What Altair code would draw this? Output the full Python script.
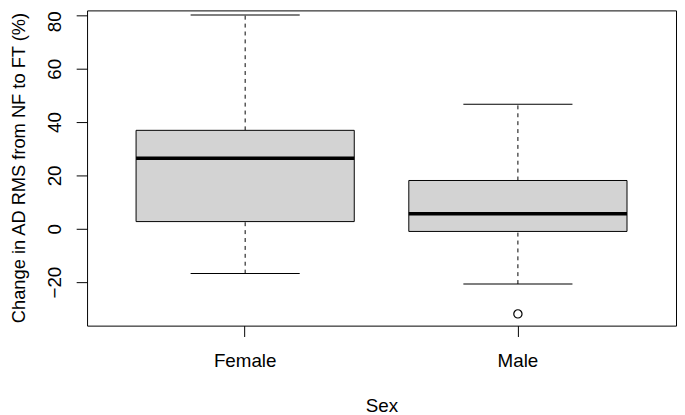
import altair as alt
import pandas as pd

# ---- data ----
sex = ["Female", "Male"]
whisker_low = [-16.8, -20.7]
q1 = [2.7, -1.0]
median = [26.4, 5.6]
q3 = [36.9, 18.1]
whisker_high = [80.1, 46.7]
outlier_sex = ["Male"]
outlier_value = [-31.9]

y_ticks = [-20, 0, 20, 40, 60, 80]
x_title = "Sex"
y_title = "Change in AD RMS from NF to FT (%)"

df = pd.DataFrame({
    "sex": sex,
    "whisker_low": whisker_low,
    "q1": q1,
    "median": median,
    "q3": q3,
    "whisker_high": whisker_high,
})
out = pd.DataFrame({"sex": outlier_sex, "value": outlier_value})

FONT = "Liberation Sans"
FS = 19

x_scale = alt.Scale(domain=sex, paddingInner=0.2, paddingOuter=0.1797)
y_scale = alt.Scale(domain=[-36.3, 81.85], nice=False, zero=False)

x_axis = alt.Axis(
    title=x_title, labelAngle=0, domain=False, grid=False,
    tickSize=11, labelPadding=30, labelBaseline="alphabetic",
    labelFontSize=FS, titleFontSize=FS, titleFontWeight="normal",
    titleX=298, titleY=87, titleAlign="center", titleBaseline="alphabetic",
    titleAngle=0,
)
y_axis = alt.Axis(
    title=y_title, values=y_ticks, domain=False, grid=False,
    tickSize=11, labelPadding=16, labelAngle=270, labelAlign="center",
    labelBaseline="alphabetic", labelFontSize=FS, titleFontSize=18.5,
    titleFontWeight="normal", titleAngle=270, titleX=-63, titleY=159,
    titleAlign="center", titleBaseline="alphabetic", labelFlush=False,
    labelOverlap=False,
    labelOffset={"condition": {"test": "datum.value == 80", "value": 6}, "value": 0},
)


def X():
    return alt.X("sex:N", scale=x_scale, axis=x_axis, sort=sex)


def Y(field):
    return alt.Y(f"{field}:Q", scale=y_scale, axis=y_axis)


base = alt.Chart(df)

upper_whisker = base.mark_rule(color="black", strokeWidth=1, strokeDash=[4, 4]).encode(
    x=X(), y=Y("q3"), y2=alt.Y2("whisker_high:Q")
)
lower_whisker = base.mark_rule(color="black", strokeWidth=1, strokeDash=[4, 4]).encode(
    x=X(), y=Y("whisker_low"), y2=alt.Y2("q1:Q")
)
cap_hi = base.mark_tick(color="black", size=110.4, thickness=1, opacity=1).encode(
    x=X(), y=Y("whisker_high")
)
cap_lo = base.mark_tick(color="black", size=110.4, thickness=1, opacity=1).encode(
    x=X(), y=Y("whisker_low")
)
box = base.mark_bar(fill="#d3d3d3", stroke="black", strokeWidth=1, opacity=1).encode(
    x=X(), y=Y("q1"), y2=alt.Y2("q3:Q")
)
med = base.mark_tick(color="black", size=220.8, thickness=3.5, opacity=1).encode(
    x=X(), y=Y("median")
)
outliers = alt.Chart(out).mark_point(
    shape="circle", filled=False, size=70, stroke="black", strokeWidth=1.2, opacity=1
).encode(x=X(), y=Y("value"))

chart = alt.layer(
    upper_whisker, lower_whisker, cap_hi, cap_lo, box, med, outliers
).properties(
    width=596,
    height=319,
    autosize=alt.AutoSizeParams(type="none"),
    padding={"left": 80, "top": 0, "right": 1, "bottom": 88},
).configure_view(
    stroke="black", strokeWidth=1
).configure_axis(
    labelFont=FONT, titleFont=FONT, labelColor="black", titleColor="black",
    tickColor="black", tickWidth=1,
)

chart.save("out.html", embed_options={"renderer": "svg", "actions": False})
